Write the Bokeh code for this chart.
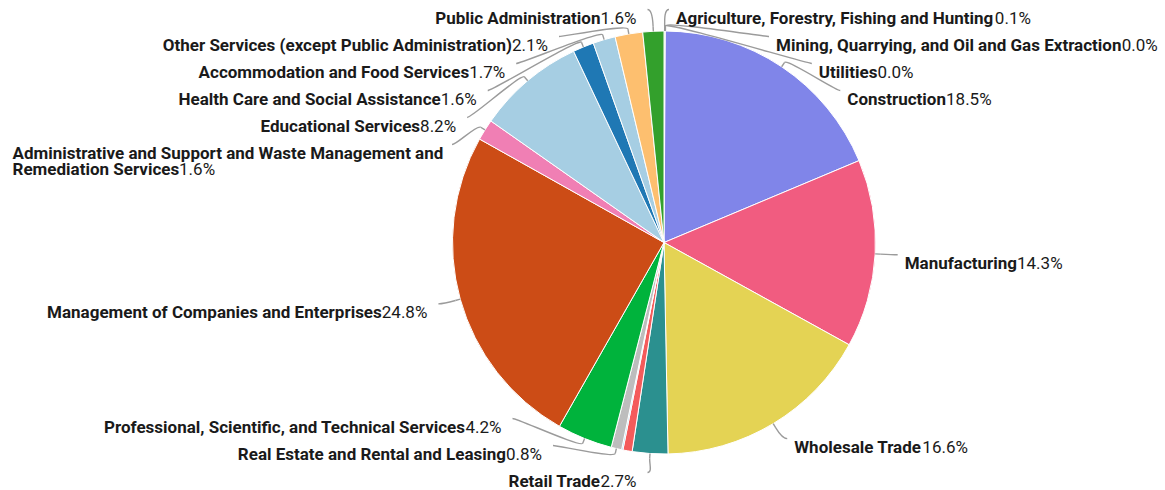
import glob
import math
import os
import struct
import subprocess

from bokeh.core.properties import value
from bokeh.embed import file_html
from bokeh.models import Range1d
from bokeh.plotting import figure
from bokeh.resources import INLINE

# ---------------- data (clockwise from 12 o'clock) ----------------
sectors = [
    "Agriculture, Forestry, Fishing and Hunting",
    "Mining, Quarrying, and Oil and Gas Extraction",
    "Utilities",
    "Construction",
    "Manufacturing",
    "Wholesale Trade",
    "Retail Trade",
    "Transportation and Warehousing",
    "Information",
    "Real Estate and Rental and Leasing",
    "Professional, Scientific, and Technical Services",
    "Management of Companies and Enterprises",
    "Administrative and Support and Waste Management and Remediation Services",
    "Educational Services",
    "Health Care and Social Assistance",
    "Accommodation and Food Services",
    "Other Services (except Public Administration)",
    "Public Administration",
]
shares = [0.1, 0.0, 0.0, 18.5, 14.3, 16.6, 2.7, 0.7, 0.1, 0.8, 4.2, 24.8,
          1.6, 8.2, 1.6, 1.7, 2.1, 1.6]
show_label = [True, True, True, True, True, True, True, False, False, True,
              True, True, True, True, True, True, True, True]
colors = ["#b2df8a", "#7cb5ec", "#90ed7d", "#8085e9", "#f15c80", "#e4d354",
          "#2b908f", "#f45b5b", "#5cc3ee", "#bdbdbd", "#00b33c", "#cc4c16",
          "#f07fb4", "#a6cee3", "#1f78b4", "#a6cee3", "#fdbf6f", "#33a02c"]

# ---------------- layout / style ----------------
W, H = 1165, 490
OX, OY = 0, 0
CX, CY, RAD = 663.5, 242.0, 211.5
LABEL_R = 229.0
GAP = 27.0
TOP_Y, BOT_Y = 9.0, 472.0
LEFT_MARGIN = 12.0
FS = 17.0
LINE_H = 16.0
TEXT_DY = 2.5
TEXT_COLOR = "#1a1a1a"
CONN_COLOR = "#9b9b9b"
FONT = "Roboto"


# ---------------- font metrics for mixed bold / regular labels ----------------
def find_font(patterns, fc_query):
    dirs = ["/usr/share/fonts", "/usr/local/share/fonts",
            os.path.expanduser("~/.fonts"), os.path.expanduser("~/.local/share/fonts")]
    for pat in patterns:
        for d in dirs:
            hits = sorted(glob.glob(os.path.join(d, "**", pat), recursive=True))
            if hits:
                return hits[0]
    try:
        out = subprocess.run(["fc-match", "-f", "%{file}", fc_query],
                             capture_output=True, text=True, timeout=5).stdout.strip()
        if out and os.path.exists(out):
            return out
    except Exception:
        pass
    return None


def font_widths(path):
    data = open(path, "rb").read()
    base = 0
    if data[:4] == b"ttcf":
        base = struct.unpack(">I", data[12:16])[0]
    num = struct.unpack(">H", data[base + 4:base + 6])[0]
    tabs = {}
    for i in range(num):
        p = base + 12 + 16 * i
        tag = data[p:p + 4].decode("latin-1")
        off = struct.unpack(">I", data[p + 8:p + 12])[0]
        tabs[tag] = off
    upem = struct.unpack(">H", data[tabs["head"] + 18:tabs["head"] + 20])[0]
    nhm = struct.unpack(">H", data[tabs["hhea"] + 34:tabs["hhea"] + 36])[0]
    hm = tabs["hmtx"]
    adv = [struct.unpack(">H", data[hm + 4 * i:hm + 4 * i + 2])[0] for i in range(nhm)]
    cm = tabs["cmap"]
    nsub = struct.unpack(">H", data[cm + 2:cm + 4])[0]
    sub4 = None
    for i in range(nsub):
        pid, eid, so = struct.unpack(">HHI", data[cm + 4 + 8 * i:cm + 12 + 8 * i])
        fmt = struct.unpack(">H", data[cm + so:cm + so + 2])[0]
        if fmt == 4 and sub4 is None:
            sub4 = cm + so
    gmap = {}
    t = sub4
    segx2 = struct.unpack(">H", data[t + 6:t + 8])[0]
    seg = segx2 // 2
    ends = t + 14
    starts = ends + segx2 + 2
    deltas = starts + segx2
    ros = deltas + segx2
    for k in range(seg):
        e = struct.unpack(">H", data[ends + 2 * k:ends + 2 * k + 2])[0]
        s = struct.unpack(">H", data[starts + 2 * k:starts + 2 * k + 2])[0]
        d = struct.unpack(">h", data[deltas + 2 * k:deltas + 2 * k + 2])[0]
        ro = struct.unpack(">H", data[ros + 2 * k:ros + 2 * k + 2])[0]
        for c in range(max(s, 32), min(e, 255) + 1):
            if ro == 0:
                g = (c + d) & 0xFFFF
            else:
                a = ros + 2 * k + ro + 2 * (c - s)
                g = struct.unpack(">H", data[a:a + 2])[0]
                if g:
                    g = (g + d) & 0xFFFF
            gmap[c] = g
    w = {chr(c): adv[min(g, nhm - 1)] / upem for c, g in gmap.items()}
    return w, ("fvar" in tabs)


FALLBACK_BOLD = {c: v for c, v in zip(
    "ABCDEFGHIJKLMNOPQRSTUVWXYZabcdefghijklmnopqrstuvwxyz",
    [.66, .63, .65, .64, .56, .55, .68, .70, .28, .55, .63, .54, .87, .70, .69, .64, .69, .63,
     .61, .61, .65, .65, .87, .63, .61, .60, .54, .56, .52, .56, .53, .35, .56, .55, .25, .25,
     .51, .25, .87, .55, .57, .56, .56, .35, .52, .33, .55, .49, .74, .50, .48, .49])}
FALLBACK_BOLD.update({" ": .25, ",": .22, "(": .35, ")": .35, ".": .27})
FALLBACK_REG = {str(d): 1150 / 2048 for d in range(10)}
FALLBACK_REG.update({".": 539 / 2048, "%": 1465 / 2048, " ": 507 / 2048})

bold_w, reg_w = dict(FALLBACK_BOLD), dict(FALLBACK_REG)
try:
    pb = find_font(["Roboto-Bold.ttf", "Roboto-Bold.otf", "Roboto_Bold.ttf"], "Roboto:bold")
    if pb:
        wb, var = font_widths(pb)
        if var:
            wb = {k: v * 1.04 for k, v in wb.items()}
        bold_w.update(wb)
except Exception:
    pass
try:
    pr = find_font(["Roboto-Regular.ttf", "Roboto-Regular.otf"], "Roboto:regular")
    if pr:
        wr, _ = font_widths(pr)
        reg_w.update(wr)
except Exception:
    pass


def text_w(s, bold):
    table = bold_w if bold else reg_w
    return sum(table.get(ch, 0.55) for ch in s) * FS


# ---------------- geometry ----------------
def pt(theta, rho):
    return CX + rho * math.sin(theta), CY - rho * math.cos(theta)


def fx(x):
    return x - OX


def fy(y):
    return H - (y - OY)


total = sum(shares)
theta0, theta1, mids = [], [], []
acc = 0.0
for s in shares:
    a0 = acc / total * 2 * math.pi
    acc += s
    a1 = acc / total * 2 * math.pi
    theta0.append(a0)
    theta1.append(a1)
    mids.append((a0 + a1) / 2)


def distribute(nat, top, bottom, gap):
    order = sorted(range(len(nat)), key=lambda i: nat[i])
    clusters = [[i] for i in order]

    def place(cl):
        m = sum(nat[i] for i in cl) / len(cl)
        st = m - (len(cl) - 1) * gap / 2
        return max(top, min(st, bottom - (len(cl) - 1) * gap))

    changed = True
    while changed:
        changed = False
        starts = [place(c) for c in clusters]
        for k in range(len(clusters) - 1):
            if starts[k] + len(clusters[k]) * gap > starts[k + 1] + 1e-9:
                clusters[k] = clusters[k] + clusters[k + 1]
                del clusters[k + 1]
                changed = True
                break
    pos = {}
    for c in clusters:
        st = place(c)
        for j, i in enumerate(c):
            pos[i] = st + j * gap
    return [pos[i] for i in range(len(nat))]


idx = [i for i in range(len(shares)) if show_label[i]]
right = [i for i in idx if mids[i] < math.pi]
left = [i for i in idx if mids[i] >= math.pi]
label_y = {}
for side in (right, left):
    nat = [CY - LABEL_R * math.cos(mids[i]) for i in side]
    ys = distribute(nat, TOP_Y, BOT_Y, GAP)
    for i, y in zip(side, ys):
        label_y[i] = y

# ---------------- figure ----------------
p = figure(width=W, height=H, x_range=Range1d(0, W), y_range=Range1d(0, H),
           output_backend="svg", toolbar_location=None, min_border=0,
           x_axis_location=None, y_axis_location=None)
p.grid.visible = False
p.outline_line_color = None
p.background_fill_color = "white"
p.border_fill_color = "white"

wi = [i for i in range(len(shares)) if shares[i] > 0]
p.wedge(x=[fx(CX)] * len(wi), y=[fy(CY)] * len(wi), radius=RAD,
        start_angle=[math.pi / 2 - theta0[i] for i in wi],
        end_angle=[math.pi / 2 - theta1[i] for i in wi],
        direction="clock", fill_color=[colors[i] for i in wi],
        line_color="white", line_width=1)

# connectors
bz = dict(x0=[], y0=[], x1=[], y1=[], cx0=[], cy0=[], cx1=[], cy1=[])
sg = dict(x0=[], y0=[], x1=[], y1=[])
texts = dict(bold=dict(x=[], y=[], t=[], a=[]), reg=dict(x=[], y=[], t=[], a=[]))


def add_text(kind, x, y, t, align):
    d = texts[kind]
    d["x"].append(fx(x))
    d["y"].append(fy(y))
    d["t"].append(t)
    d["a"].append(align)


CAP = 0.711 * FS
for i in idx:
    is_right = mids[i] < math.pi
    yl = label_y[i]
    dy = yl - CY
    off = math.sqrt(max(LABEL_R ** 2 - dy ** 2, 0.0))
    if is_right:
        xl = CX + off + 5
    else:
        xl = CX - max(off, 11.5) - 5
    tx, ty = pt(mids[i], RAD)
    bx, by = pt(mids[i], RAD + 5)
    bz["x0"].append(fx(xl)); bz["y0"].append(fy(yl))
    bz["cx0"].append(fx(xl + (-5 if is_right else 5))); bz["cy0"].append(fy(yl))
    bz["cx1"].append(fx(2 * bx - tx)); bz["cy1"].append(fy(2 * by - ty))
    bz["x1"].append(fx(bx)); bz["y1"].append(fy(by))
    sg["x0"].append(fx(bx)); sg["y0"].append(fy(by))
    sg["x1"].append(fx(tx)); sg["y1"].append(fy(ty))

    name = sectors[i]
    pct = f"{shares[i]:.1f}%"
    base = yl + TEXT_DY + CAP / 2
    if is_right:
        xt = xl + 7
        add_text("bold", xt, base, name, "left")
        add_text("reg", xt + text_w(name, True), base, pct, "left")
    else:
        xt = xl - 11
        full = text_w(name, True) + text_w(pct, False)
        if xt - full >= LEFT_MARGIN:
            add_text("reg", xt, base, pct, "right")
            add_text("bold", xt - text_w(pct, False), base, name, "right")
        else:
            limit = xl - 4 - LEFT_MARGIN
            lines, cur = [], ""
            for word in name.split(" "):
                trial = (cur + " " + word).strip()
                if cur and text_w(trial, True) > limit:
                    lines.append(cur)
                    cur = word
                else:
                    cur = trial
            lines.append(cur)
            for k, ln in enumerate(lines):
                add_text("bold", LEFT_MARGIN, base + k * LINE_H, ln, "left")
            add_text("reg", LEFT_MARGIN + text_w(lines[-1], True),
                     base + (len(lines) - 1) * LINE_H, pct, "left")

p.bezier(line_color=CONN_COLOR, line_width=1.4, **bz)
p.segment(line_color=CONN_COLOR, line_width=1.4, **sg)

for kind, style in (("bold", "bold"), ("reg", "normal")):
    d = texts[kind]
    p.text(x=d["x"], y=d["y"], text=d["t"], text_align=d["a"],
           text_baseline="alphabetic", text_font=value(FONT),
           text_font_style=style, text_font_size=f"{FS}px", text_color=TEXT_COLOR)

open("out.html", "w").write(file_html(p, INLINE))
